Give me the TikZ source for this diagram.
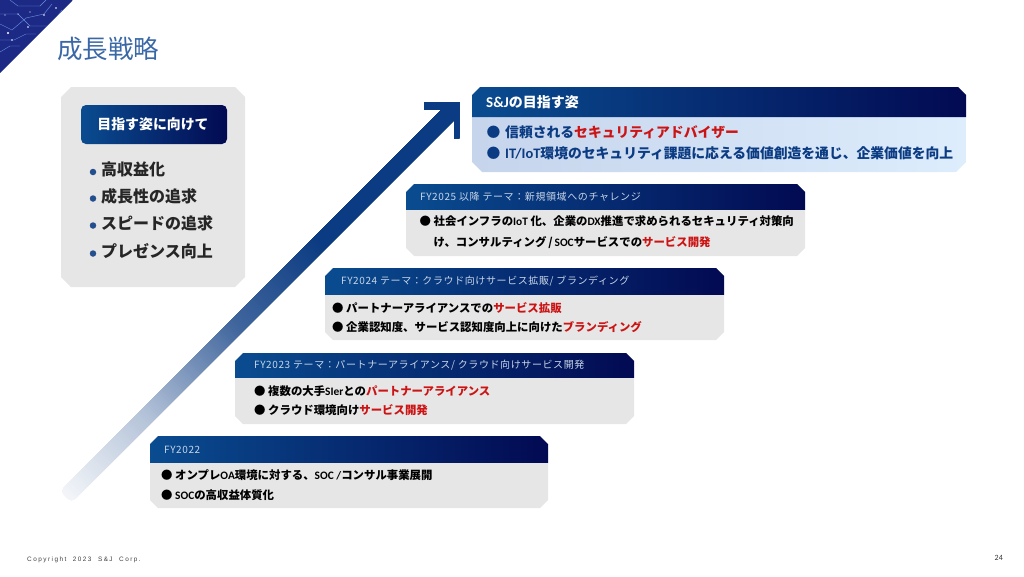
\documentclass[tikz,border=0pt]{standalone}
\usepackage{fontspec}
\setmainfont{Noto Sans CJK JP}
\newfontfamily\jp{Noto Sans CJK JP}
\newfontfamily\carl{Carlito}
\newfontfamily\foot[LetterSpace=23]{Liberation Sans}
\newfontfamily\headf[LetterSpace=6]{Noto Sans CJK JP}
\definecolor{hdL}{HTML}{0A4C90}
\definecolor{hdR}{HTML}{020A52}
\definecolor{panel}{HTML}{E6E6E6}
\definecolor{redt}{HTML}{CC1414}
\definecolor{navyt}{HTML}{0B3B82}
\definecolor{titlec}{HTML}{3A68A6}
\definecolor{headt}{HTML}{C8D6E8}
\definecolor{cardL}{HTML}{C6D4EC}
\definecolor{cardR}{HTML}{DDEDFC}
\definecolor{tri}{HTML}{1C2A86}
\definecolor{trl}{HTML}{6C8FE0}
\newcommand{\La}[1]{{\carl\bfseries #1}}
\newcommand{\Rd}[1]{{\color{redt}#1}}
\newcommand{\Bu}{\makebox[14pt][l]{●}}
\newcommand{\chead}[4]{% x1 y1 x2 yh
 \shade[left color=hdL,right color=hdR] (#1+8,#2) -- (#3-8,#2) -- (#3,#2+8) -- (#3,#4) -- (#1,#4) -- (#1,#2+8) -- cycle;}
\newcommand{\cbody}[4]{% x1 yh x2 y2
 \fill[panel] (#1,#2) -- (#3,#2) -- (#3,#4-8) -- (#3-8,#4) -- (#1+8,#4) -- (#1,#4-8) -- cycle;}
\tikzset{
 lbl/.style={anchor=west,inner sep=0pt,font=\jp\bfseries\fontsize{11.4}{14}\selectfont,text=black},
 hdl/.style={anchor=west,inner sep=0pt,font=\headf\fontsize{10}{12}\selectfont,text=headt},
 lst/.style={anchor=west,inner sep=0pt,font=\jp\bfseries\fontsize{16}{20}\selectfont,text=black!85},
 goal/.style={anchor=west,inner sep=0pt,font=\jp\bfseries\fontsize{13.8}{17}\selectfont,text=navyt},
 dotb/.style={fill=navyt!90,draw=none,circle,inner sep=0pt,minimum size=6.5pt}
}
\begin{document}
\begin{tikzpicture}[x=1pt,y=-1pt]
\useasboundingbox (0,0) rectangle (1024,576);
% corner triangle
\begin{scope}
\clip (0,0) -- (73,0) -- (0,73) -- cycle;
\fill[tri] (0,0) rectangle (73,73);
\draw[trl,line width=.4pt] (0,14) -- (18,14) -- (30,26) -- (50,26) -- (62,10);
\draw[trl,line width=.4pt] (0,24) -- (12,30) -- (26,18) -- (44,14) -- (52,4);
\draw[trl,line width=.4pt] (0,40) -- (14,40) -- (26,34) -- (36,34);
\draw[trl,line width=.4pt] (10,0) -- (18,6) -- (40,6) -- (46,0);
\draw[trl,line width=.4pt] (0,52) -- (10,46) -- (20,46);
\fill[white] (8,33) circle (1.2) (28,27) circle (.8) (44,15) circle (.8) (18,14) circle (.7) (12,40) circle (.8) (56,8) circle (.8) (5,15) circle (.7) (30,12) circle (.6);
\end{scope}
\node[anchor=west,inner sep=0pt,font=\jp\fontsize{25.5}{30}\selectfont,text=titlec] (title) at (57,49) {成長戦略};
% left panel
\fill[panel] (71,87) -- (235,87) -- (245,97) -- (245,277) -- (235,287) -- (71,287) -- (61,277) -- (61,97) -- cycle;
\shade[left color=hdL,right color=hdR,rounded corners=5pt] (81,105) rectangle (227,144);
\node[inner sep=0pt,font=\jp\bfseries\fontsize{13.9}{16}\selectfont,text=white] (btn) at (153,124) {目指す姿に向けて};
\node[dotb] at (93,172) {}; \node[dotb] at (93,198.5) {}; \node[dotb] at (93,225.5) {}; \node[dotb] at (93,253.5) {};
\node[lst] (l1) at (101,169.5) {高収益化};
\node[lst] (l2) at (101,196.5) {成長性の追求};
\node[lst] (l3) at (101,223.5) {スピードの追求};
\node[lst] (l4) at (101,251.5) {プレゼンス向上};
% growth arrow
\begin{scope}
\clip (424,102) -- (459,102) -- (459,138) -- (454,138) -- (454,120) -- (84,490) [rounded corners=5pt] -- (71.5,502.5) -- (60,491) [rounded corners=0pt] -- (72,479) -- (441.7,109.3) -- (424,109.3) -- cycle;
\begin{scope}[shift={(60,491)},rotate=45]
\foreach \t in {-10,-7,...,380}{
 \pgfmathsetmacro{\p}{\t<0 ? 5 : (\t<110 ? 5+\t*25/110 : (\t<240 ? 30+(\t-110)*48/130 : (\t<360 ? 78+(\t-240)*22/120 : 100)))}
 \fill[navyt!\p!white] (\t,-40) rectangle (620,40);
}
\end{scope}
\end{scope}
% goal card
\shade[left color=cardL,right color=cardR] (472,117) -- (966,117) -- (966,162) -- (956,172) -- (482,172) -- (472,162) -- cycle;
\chead{472}{87}{966}{117}
\node[anchor=west,inner sep=0pt,font=\jp\bfseries\fontsize{14}{17}\selectfont,text=white] (goalh) at (486,102) {\La{\fontsize{15}{17}\selectfont S\&J}の目指す姿};
\node[goal] (g1) at (486.5,132) {\makebox[18.5pt][l]{●}信頼される\Rd{セキュリティアドバイザー}};
\node[goal] (g2) at (486.5,153.5) {\makebox[18.5pt][l]{●}\La{\fontsize{14.5}{17}\selectfont IT/IoT}環境のセキュリティ課題に応える価値創造を通じ、企業価値を向上};
% FY2025
\chead{406}{184}{805}{210}
\cbody{406}{210}{805}{256}
\node[hdl] (h25) at (420,197) {FY2025 以降 テーマ：新規領域へのチャレンジ};
\node[lbl] (a1) at (419.5,221.5) {\Bu 社会インフラの\La{IoT }化、企業の\La{DX}推進で求められるセキュリティ対策向};
\node[lbl] (a2) at (433.5,243) {け、コンサルティング\,/\,\La{SOC}サービスでの\Rd{サービス開発}};
% FY2024
\chead{325}{268}{724}{295}
\cbody{325}{295}{724}{340}
\node[hdl] (h24) at (341,281) {FY2024 テーマ：クラウド向けサービス拡販/ ブランディング};
\node[lbl] (b1) at (332,308) {\Bu パートナーアライアンスでの\Rd{サービス拡販}};
\node[lbl] (b2) at (332,327.5) {\Bu 企業認知度、サービス認知度向上に向けた\Rd{ブランディング}};
% FY2023
\chead{235}{353}{634}{378}
\cbody{235}{378}{634}{424}
\node[hdl] (h23) at (254,365.5) {FY2023 テーマ：パートナーアライアンス/ クラウド向けサービス開発};
\node[lbl] (c1) at (254,391) {\Bu 複数の大手\La{SIer}との\Rd{パートナーアライアンス}};
\node[lbl] (c2) at (254,410.5) {\Bu クラウド環境向け\Rd{サービス開発}};
% FY2022
\chead{150}{436}{548}{463}
\cbody{150}{463}{548}{508}
\node[hdl] (h22) at (164,449.5) {FY2022};
\node[lbl] (d1) at (161,475) {\Bu オンプレ\La{OA}環境に対する、\La{SOC /}コンサル事業展開};
\node[lbl] (d2) at (161,495) {\Bu \La{SOC}の高収益体質化};
% footer
\node[anchor=west,inner sep=0pt,font=\foot\fontsize{6.4}{8}\selectfont,text=black!75] (copy) at (27,559.5) {Copyright\ \ 2023\ \ S\&J\ \ Corp.};
\node[anchor=east,inner sep=0pt,font=\carl\fontsize{8}{10}\selectfont,text=black!80] (pg) at (1003,558) {24};
\end{tikzpicture}
\end{document}
